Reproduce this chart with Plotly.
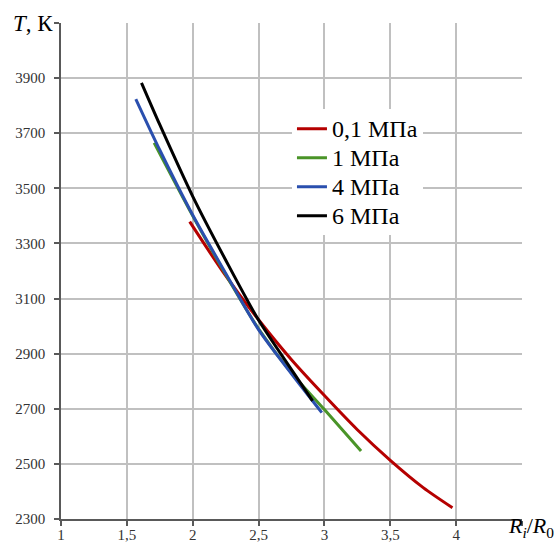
import plotly.graph_objects as go

# Data
x_01 = [1.977, 2.25, 2.5, 2.75, 3.0, 3.25, 3.5, 3.75, 3.972]
t_01 = [3379, 3183, 3023, 2878, 2748, 2624, 2513, 2414, 2341]

x_1 = [1.707, 2.0, 2.25, 2.5, 2.75, 3.0, 3.278]
t_1 = [3665, 3400, 3188, 2990, 2830, 2697, 2547]

x_4 = [1.568, 1.75, 2.0, 2.25, 2.5, 2.75, 2.98]
t_4 = [3824, 3639, 3403, 3192, 2987, 2827, 2686]

x_6 = [1.611, 1.75, 2.0, 2.25, 2.5, 2.75, 2.91]
t_6 = [3883, 3731, 3471, 3240, 3022, 2842, 2729]

names = ["0,1 МПа", "1 МПа", "4 МПа", "6 МПа"]
colors = ["#b50000", "#4a9428", "#2a4fae", "#000000"]

x_ticks = [1, 1.5, 2, 2.5, 3, 3.5, 4]
x_ticktext = ["1", "1,5", "2", "2,5", "3", "3,5", "4"]
y_ticks = [2300, 2500, 2700, 2900, 3100, 3300, 3500, 3700, 3900]
y_ticktext = ["2300", "2500", "2700", "2900", "3100", "3300", "3500", "3700", "3900"]
x_edge = [4.5]
y_edge = [4100]

FONT = "Liberation Serif, Times New Roman, serif"

fig = go.Figure()
for xs, ts, nm, c in zip([x_01, x_1, x_4, x_6], [t_01, t_1, t_4, t_6], names, colors):
    fig.add_trace(go.Scatter(x=xs, y=ts, mode="lines",
                             name='<span style="font-size:24px">' + nm + '</span>',
                             line=dict(color=c, width=3, shape="spline", smoothing=0.8)))

fig.update_layout(
    width=557, height=544,
    margin=dict(l=61, r=35, t=23, b=25),
    paper_bgcolor="white", plot_bgcolor="white",
    font=dict(family=FONT, color="#333333", size=15),
    showlegend=True,
    legend=dict(x=0.501, y=0.826, xanchor="left", yanchor="top",
                bgcolor="white", borderwidth=0,
                font=dict(family=FONT, size=20, color="#000000"),
                tracegroupgap=0),
    xaxis=dict(range=[1, 4.5], tickvals=x_ticks, ticktext=x_ticktext,
               showgrid=True, gridcolor="#c0c0c0", gridwidth=1.5,
               showline=True, linecolor="#595959", linewidth=1.5,
               ticks="outside", ticklen=5, tickcolor="#595959", tickwidth=1.5,
               minor=dict(tickvals=x_edge, showgrid=True, gridcolor="#c0c0c0",
                          gridwidth=1.5, ticks="outside", ticklen=5,
                          tickcolor="#595959", tickwidth=1.5),
               zeroline=False, automargin=False,
               tickfont=dict(size=15, color="#333333"),
               ticklabelstandoff=-4),
    yaxis=dict(range=[2300, 4100], tickvals=y_ticks, ticktext=y_ticktext,
               showgrid=True, gridcolor="#c0c0c0", gridwidth=1.5,
               showline=True, linecolor="#595959", linewidth=1.5,
               ticks="outside", ticklen=5, tickcolor="#595959", tickwidth=1.5,
               minor=dict(tickvals=y_edge, showgrid=True, gridcolor="#c0c0c0",
                          gridwidth=1.5, ticks="outside", ticklen=5,
                          tickcolor="#595959", tickwidth=1.5),
               zeroline=False, automargin=False,
               tickfont=dict(size=15, color="#333333"),
               ticklabelstandoff=6),
    annotations=[
        dict(text="<i>T</i>, К", xref="paper", yref="paper",
             x=-0.108, y=1.0, xanchor="left", yanchor="middle", showarrow=False,
             font=dict(family=FONT, size=23, color="#000000")),
        dict(text="<i>R<sub>i</sub></i>/<i>R</i><sub>0</sub>", xref="paper", yref="paper",
             x=1.074, y=-0.0484, xanchor="right", yanchor="bottom", showarrow=False,
             font=dict(family=FONT, size=22, color="#000000")),
    ],
)

fig.write_html("out.html")
